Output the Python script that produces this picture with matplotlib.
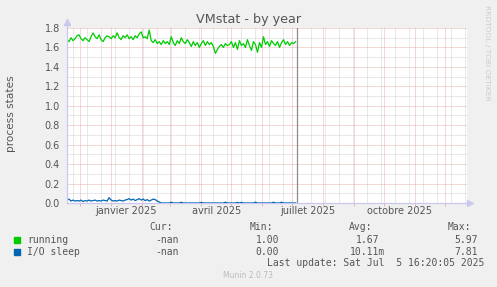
import numpy as np
import pandas as pd
import matplotlib
matplotlib.use('Agg')
import matplotlib.pyplot as plt
from matplotlib.patches import Rectangle

# Taille de l'image (pixels)
W, H = 497, 287

# Séries (un point tous les 2 jours à partir du 18/11/2024 12h)
debut = np.datetime64('2024-11-18T12:00')
pas = np.timedelta64(2, 'D')

running = [
    1.68, 1.66, 1.70, 1.67, 1.69, 1.72, 1.73, 1.69, 1.67, 1.70,
    1.68, 1.66, 1.71, 1.75, 1.71, 1.69, 1.73, 1.68, 1.66, 1.70,
    1.72, 1.71, 1.69, 1.72, 1.70, 1.75, 1.70, 1.68, 1.72, 1.70,
    1.73, 1.69, 1.71, 1.68, 1.72, 1.70, 1.74, 1.76, 1.70, 1.71,
    1.69, 1.78, 1.67, 1.65, 1.68, 1.64, 1.66, 1.63, 1.67, 1.64,
    1.66, 1.63, 1.71, 1.65, 1.62, 1.67, 1.64, 1.70, 1.66, 1.64,
    1.68, 1.65, 1.61, 1.66, 1.62, 1.65, 1.60, 1.64, 1.67, 1.62,
    1.66, 1.63, 1.65, 1.61, 1.54, 1.58, 1.61, 1.63, 1.60, 1.64,
    1.62, 1.63, 1.66, 1.60, 1.65, 1.58, 1.67, 1.62, 1.64, 1.60,
    1.68, 1.62, 1.57, 1.66, 1.63, 1.55, 1.65, 1.60, 1.71, 1.63,
    1.66, 1.61, 1.67, 1.64, 1.62, 1.66, 1.60, 1.65, 1.68, 1.63,
    1.66, 1.62, 1.65, 1.64, 1.66,
]

io_sleep = [
    0.03, 0.04, 0.02, 0.03, 0.02, 0.025, 0.02, 0.03, 0.015, 0.025,
    0.02, 0.03, 0.02, 0.025, 0.03, 0.02, 0.025, 0.02, 0.03, 0.025,
    0.02, 0.055, 0.03, 0.02, 0.025, 0.02, 0.03, 0.025, 0.02, 0.03,
    0.035, 0.045, 0.03, 0.04, 0.025, 0.035, 0.045, 0.03, 0.04, 0.025,
    0.035, 0.02, 0.03, 0.04, 0.035, 0.02, 0.01,
    0, 0, 0, 0, 0, 0.008, 0, 0, 0, 0,
    0.008, 0, 0, 0, 0, 0, 0, 0, 0, 0,
    0.006, 0, 0, 0, 0, 0, 0, 0, 0, 0,
    0, 0, 0.008, 0, 0, 0, 0, 0, 0.006, 0,
    0.006, 0, 0, 0, 0, 0, 0, 0.008, 0, 0,
    0, 0, 0, 0, 0, 0, 0.008, 0, 0, 0,
    0.008, 0, 0, 0, 0, 0, 0, 0,
]

dates = debut + np.arange(len(running)) * pas

# Axe des temps
x_min = np.datetime64('2024-11-18T12:00')
x_max = np.datetime64('2025-12-22T12:00')
maintenant = np.datetime64('2025-07-05T16:20')
etiquettes_x = ['janvier 2025', 'avril 2025', 'juillet 2025', 'octobre 2025']
dates_etiquettes = np.array(['2025-01-16T12:00', '2025-04-16T12:00',
                             '2025-07-16T12:00', '2025-10-16T12:00'], dtype='datetime64[m]')
debuts_mois = pd.date_range('2024-12-01', '2025-12-01', freq='MS')
quinzaines = pd.date_range('2024-11-24', '2025-12-21', freq='14D')

# Axe vertical
y_max = 1.8
yticks = [0.0, 0.2, 0.4, 0.6, 0.8, 1.0, 1.2, 1.4, 1.6, 1.8]
yticks_mineurs = [0.1, 0.3, 0.5, 0.7, 0.9, 1.1, 1.3, 1.5, 1.7]

# Légende
noms = ['running', 'I/O sleep']
couleurs = ['#00CC00', '#0066B3']
cur = ['-nan', '-nan']
mins = ['1.00', '0.00']
avgs = ['1.67', '10.11m']
maxs = ['5.97', '7.81']

fond = '#F0F0F0'
texte = '#555555'
rouge = '#EBB0B0'
gris = '#D2D2D2'
axe = '#C8C8F0'

fig = plt.figure(figsize=(W / 100, H / 100), dpi=100, facecolor=fond)
ax = fig.add_axes([67 / W, 84 / H, 400 / W, 175 / H])
ax.set_facecolor('white')

# Grille pointillée
pointille = dict(lw=0.72, ls=(0, (1, 1)))
for d in quinzaines:
    ax.axvline(d, color=gris, zorder=1, **pointille)
for v in yticks_mineurs:
    ax.axhline(v, color=gris, zorder=1, **pointille)
for d in debuts_mois:
    ax.axvline(d, color=rouge, zorder=2, **pointille)
for v in yticks[1:]:
    ax.axhline(v, color=rouge, zorder=2, **pointille)

# Courbes
ax.plot(dates, running, color=couleurs[0], lw=0.9, zorder=4)
ax.plot(dates, io_sleep, color=couleurs[1], lw=0.9, zorder=4)
ax.axvline(maintenant, color='#8C8C8C', lw=0.9, zorder=5)

ax.set_xlim(x_min, x_max)
ax.set_ylim(0, y_max)

for s in ax.spines.values():
    s.set_visible(False)

# Axes façon rrdtool avec flèches
ax.plot([0, 0], [0, 1.03], transform=ax.transAxes, color=axe, lw=0.9, clip_on=False, zorder=6)
ax.plot([0, 1.006], [0, 0], transform=ax.transAxes, color=axe, lw=0.9, clip_on=False, zorder=3)
ax.plot([0], [1.035], marker='^', ms=4.5, color=axe, transform=ax.transAxes, clip_on=False)
ax.plot([1.008], [0], marker='>', ms=4.5, color=axe, transform=ax.transAxes, clip_on=False)

ax.set_yticks(yticks)
ax.set_yticklabels([f'{v:.1f}' for v in yticks])
ax.set_xticks(dates_etiquettes)
ax.set_xticklabels(etiquettes_x)
ax.set_xticks(debuts_mois, minor=True)
ax.tick_params(axis='y', length=0, pad=5, labelsize=7, labelcolor=texte)
ax.tick_params(axis='x', which='major', length=0, pad=2.5, labelsize=7, labelcolor=texte)
ax.tick_params(axis='x', which='minor', length=2, width=0.7, color=rouge)


def ftext(x, y, s, **kw):
    fig.text(x / W, 1 - y / H, s, **kw)


ftext(249, 19, 'VMstat - by year', ha='center', va='center', fontsize=9.2, color=texte)
ftext(11, 114, 'process states', ha='center', va='center', rotation=90, fontsize=7.6, color=texte)
ftext(487, 53, 'RRDTOOL / TOBI OETIKER', ha='center', va='center', rotation=270,
      fontsize=5.4, color='#CCCCCC')

mono = dict(family='DejaVu Sans Mono', fontsize=7, color=texte, va='center')
for lbl, xr in zip(['Cur:', 'Min:', 'Avg:', 'Max:'], [173, 273, 372, 471]):
    ftext(xr, 227, lbl, ha='right', **mono)

for i, nom in enumerate(noms):
    y = 240 + 12 * i
    fig.patches.append(Rectangle((14 / W, 1 - (y + 3) / H), 6 / W, 6 / H,
                                 transform=fig.transFigure, color=couleurs[i]))
    ftext(27, y, nom, ha='left', **mono)
    ftext(179, y, cur[i], ha='right', **mono)
    ftext(279, y, mins[i], ha='right', **mono)
    ftext(385 if avgs[i].endswith('m') else 379, y, avgs[i], ha='right', **mono)
    ftext(478, y, maxs[i], ha='right', **mono)

ftext(484, 263, 'Last update: Sat Jul  5 16:20:05 2025', ha='right', **mono)
ftext(248, 276, 'Munin 2.0.73', ha='center', va='center', fontsize=5.5, color='#BBBBBB')

fig.savefig('out.png', dpi=100, facecolor=fond)
